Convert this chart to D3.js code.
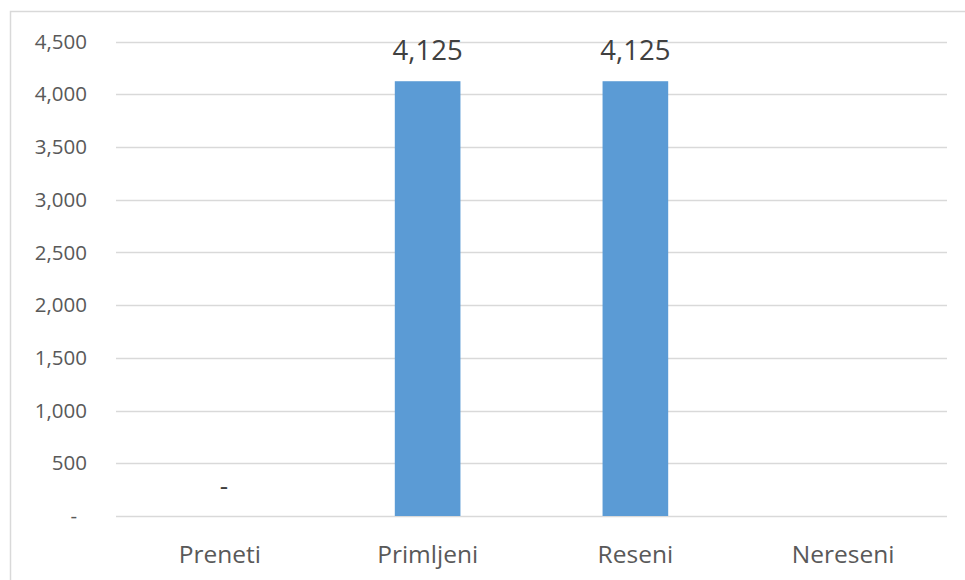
<!DOCTYPE html>
<html><head><meta charset="utf-8">
<script src="https://cdn.jsdelivr.net/npm/d3@7"></script>
<style>body{margin:0;background:#fff;} text{font-family:"Open Sans","Liberation Sans",sans-serif;}</style>
</head><body><svg id="c" width="965" height="580"></svg>
<script>
const categories = ["Preneti", "Primljeni", "Reseni", "Nereseni"];
const values = [0, 4125, 4125, null];
const yTicks = [0, 500, 1000, 1500, 2000, 2500, 3000, 3500, 4000, 4500];

const svg = d3.select("#c");
const W = 965, H = 580;
const m = {left: 116, right: 18, top: 41.7, bottom: 64};
const x0 = m.left, x1 = W - m.right, yTop = m.top, yBot = 516;
const FONT = "'Open Sans', 'Liberation Sans', sans-serif";

svg.append("rect").attr("x", 10.5).attr("y", 11.5).attr("width", W + 10).attr("height", H + 10)
  .attr("fill", "none").attr("stroke", "#d9d9d9").attr("stroke-width", 1.5);

const x = d3.scaleBand().domain(categories).range([x0, x1]).paddingInner(0).paddingOuter(0);
const y = d3.scaleLinear().domain([0, 4500]).range([yBot, yTop]);

const fmt = d3.format(",");
svg.append("g").selectAll("line").data(yTicks).join("line")
  .attr("x1", x0).attr("x2", x1)
  .attr("y1", d => Math.round(y(d)) + 0.5).attr("y2", d => Math.round(y(d)) + 0.5)
  .attr("stroke", "#d9d9d9").attr("stroke-width", 1.3);

const yAxis = d3.axisLeft(y).tickValues(yTicks).tickSize(0).tickPadding(0)
  .tickFormat(d => d === 0 ? "-" : fmt(d));
const ga = svg.append("g").attr("transform", `translate(87,0)`).call(yAxis);
ga.select(".domain").remove();
ga.selectAll("text").attr("fill", "#595959").style("font-size", "20.5px")
  .style("font-family", FONT)
  .attr("dx", d => d === 0 ? -10 : 0);

const bw = x.bandwidth() * 0.316;
svg.append("g").selectAll("rect").data(categories.map((c, i) => ({c, v: values[i]})).filter(d => d.v))
  .join("rect")
  .attr("x", d => x(d.c) + x.bandwidth() / 2 - bw / 2)
  .attr("width", bw)
  .attr("y", d => y(d.v)).attr("height", d => y(0) - y(d.v))
  .attr("fill", "#5b9bd5");

svg.append("g").selectAll("text").data(categories.map((c, i) => ({c, v: values[i]})).filter(d => d.v !== null))
  .join("text")
  .attr("x", d => x(d.c) + x.bandwidth() / 2 + (d.v === 0 ? 4 : 0))
  .attr("y", d => d.v === 0 ? y(0) - 21 : y(d.v) - 21.5)
  .attr("text-anchor", "middle")
  .attr("fill", "#404040")
  .style("font-size", d => d.v === 0 ? "26px" : "27.5px")
  .style("font-family", FONT)
  .text(d => d.v === 0 ? "-" : fmt(d.v));

const xAxis = d3.axisBottom(x).tickSize(0).tickPadding(0);
const gx = svg.append("g").attr("transform", `translate(0,${yBot})`).call(xAxis);
gx.select(".domain").remove();
gx.selectAll("text").attr("fill", "#595959").attr("dy", 0).attr("y", 47)
  .style("font-size", "24.5px").style("font-family", FONT);
</script></body></html>
